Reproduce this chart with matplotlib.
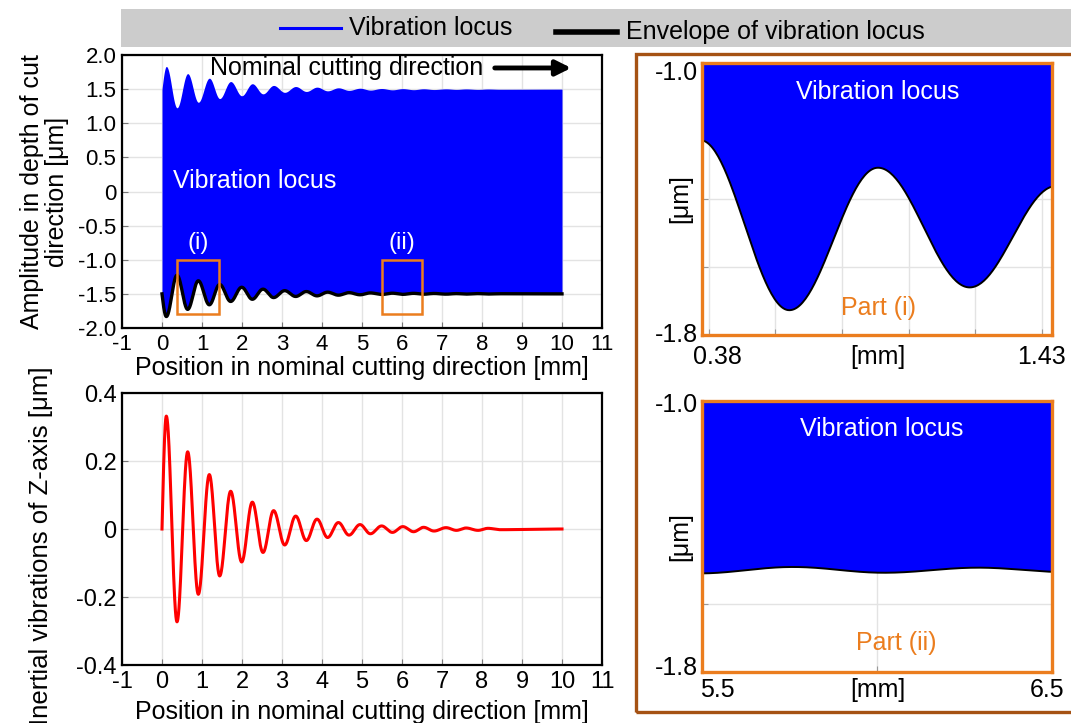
import numpy as np
import matplotlib
matplotlib.use("Agg")
import matplotlib.pyplot as plt
from matplotlib.patches import Rectangle
from matplotlib.lines import Line2D

plt.rcParams['font.family'] = ['Liberation Sans', 'DejaVu Sans']
plt.rcParams['axes.unicode_minus'] = False

# Extrema of the inertial Z-axis vibration [mm] / [um]
peak_pos = [0.0, 0.108, 0.375, 0.642, 0.908, 1.183, 1.442, 1.717, 1.992, 2.258,
            2.525, 2.79, 3.067, 3.342, 3.608, 3.875, 4.14, 4.41, 4.675, 4.95,
            5.21, 5.49, 5.76, 6.02, 6.29, 6.54, 6.8, 7.1, 7.36, 7.6, 7.9,
            8.15, 8.45, 10.0]
peak_val = [0.0, 0.332, -0.273, 0.227, -0.192, 0.160, -0.138, 0.111, -0.097, 0.079,
            -0.069, 0.054, -0.047, 0.038, -0.034, 0.029, -0.025, 0.019, -0.018, 0.013,
            -0.014, 0.009, -0.010, 0.007, -0.008, 0.005, -0.006, 0.004, -0.004, 0.003,
            -0.004, 0.002, -0.002, 0.0]

nominal_amplitude = 1.5          # um, half width of the vibration locus
part_i = (0.38, 1.43)            # mm
part_ii = (5.5, 6.5)             # mm
detail_y = (-1.8, -1.0)          # um

x_ticks = list(range(-1, 12))
amp_ticks = [2.0, 1.5, 1.0, 0.5, 0, -0.5, -1.0, -1.5, -2.0]
amp_labels = ['2.0', '1.5', '1.0', '0.5', '0', '-0.5', '-1.0', '-1.5', '-2.0']
z_ticks = [0.4, 0.2, 0, -0.2, -0.4]
z_labels = ['0.4', '0.2', '0', '-0.2', '-0.4']

BLUE = '#0000FF'
RED = '#FF0000'
ORANGE = '#EB7D1E'
BROWN = '#A55214'
GRID = '#E3E3E3'


def smooth_through(xk, yk, n=60):
    """Half-wave segments joining consecutive extrema."""
    xs, ys = [], []
    for i in range(len(xk) - 1):
        t = np.linspace(0, 1, n, endpoint=False)
        w = np.sin(np.pi / 2 * t) if i == 0 else (1 - np.cos(np.pi * t)) / 2
        xs.append(xk[i] + (xk[i + 1] - xk[i]) * t)
        ys.append(yk[i] + (yk[i + 1] - yk[i]) * w)
    xs.append([xk[-1]])
    ys.append([yk[-1]])
    return np.concatenate(xs), np.concatenate(ys)


pos, z = smooth_through(peak_pos, peak_val)
upper = nominal_amplitude + z
lower = -nominal_amplitude - z

W, H = 1071, 723
fig = plt.figure(figsize=(W / 100, H / 100), dpi=100)


def rect(l, t, r, b):
    return [l / W, 1 - b / H, (r - l) / W, (b - t) / H]


def style_main(ax):
    for s in ax.spines.values():
        s.set_linewidth(1.6)
        s.set_color('black')
        s.set_zorder(6)
    ax.grid(True, color=GRID, linewidth=1.0)
    ax.set_axisbelow(True)
    ax.tick_params(direction='in', length=4, width=0.8, color='#777777',
                   labelsize=16, pad=4)


# ---- legend band ----
fig.add_artist(Rectangle((121 / W, 1 - 47 / H), (W - 121) / W, 38 / H,
                         transform=fig.transFigure, facecolor='#CCCCCC',
                         edgecolor='none'))
fig.add_artist(Line2D([280 / W, 341 / W], [1 - 28 / H] * 2, color=BLUE, lw=2.2,
                      transform=fig.transFigure))
fig.text(349 / W, 1 - 28 / H, 'Vibration locus', fontsize=18, va='center', ha='left')
fig.add_artist(Line2D([556 / W, 617 / W], [1 - 32 / H] * 2, color='black', lw=4,
                      transform=fig.transFigure))
fig.text(626 / W, 1 - 32 / H, 'Envelope of vibration locus', fontsize=18,
         va='center', ha='left')

# ---- top-left: vibration locus ----
ax1 = fig.add_axes(rect(122, 55, 602, 328))
ax1.fill_between(pos, lower, upper, color=BLUE, linewidth=0, zorder=2)
ax1.plot(pos, lower, color='black', lw=2.4, zorder=3)
ax1.set_xlim(-1, 11)
ax1.set_ylim(-2.0, 2.0)
ax1.set_xticks(x_ticks)
ax1.set_yticks(amp_ticks, amp_labels)
style_main(ax1)
ax1.set_xlabel('Position in nominal cutting direction [mm]', fontsize=18, labelpad=1)
ax1.set_ylabel('Amplitude in depth of cut\ndirection [\u03bcm]', fontsize=18,
               linespacing=1.05)
ax1.yaxis.set_label_coords(-0.11, 0.5)
for (x0, x1), tag in ((part_i, '(i)'), (part_ii, '(ii)')):
    ax1.add_patch(Rectangle((x0, detail_y[0]), x1 - x0, detail_y[1] - detail_y[0],
                            fill=False, edgecolor=ORANGE, lw=1.8, zorder=4))
    ax1.text((x0 + x1) / 2, -0.75, tag, color='white', fontsize=17,
             ha='center', va='center', zorder=5)
ax1.text(0.27, 0.16, 'Vibration locus', color='white', fontsize=18,
         ha='left', va='center', zorder=5)
ax1.text(1.2, 1.81, 'Nominal cutting direction', color='black', fontsize=18,
         ha='left', va='center', zorder=5)
ax1.annotate('', xy=(10.3, 1.81), xytext=(8.25, 1.81),
             arrowprops=dict(arrowstyle='-|>,head_length=0.9,head_width=0.45',
                             color='black', lw=3.5), zorder=5)

# ---- bottom-left: inertial vibration ----
ax2 = fig.add_axes(rect(122, 393, 602, 665))
ax2.plot(pos, z, color=RED, lw=2.2, zorder=3)
ax2.set_xlim(-1, 11)
ax2.set_ylim(-0.4, 0.4)
ax2.set_xticks(x_ticks)
ax2.set_yticks(z_ticks, z_labels)
style_main(ax2)
ax2.tick_params(labelsize=17)
ax2.set_xlabel('Position in nominal cutting direction [mm]', fontsize=18, labelpad=5)
ax2.set_ylabel('Inertial vibrations of Z-axis [\u03bcm]', fontsize=18.5)
ax2.yaxis.set_label_coords(-0.143, 0.44)

# ---- right-hand frame ----
fig.add_artist(Rectangle((636 / W, 1 - 712 / H), (W + 10 - 636) / W, (712 - 54) / H,
                         transform=fig.transFigure, fill=False,
                         edgecolor=BROWN, lw=2.4, clip_on=False))


def detail_panel(box, span, part_label, label_pos, ylab_y, xlab_y, locus_xy):
    ax = fig.add_axes(rect(*box))
    ax.fill_between(pos, lower, upper, color=BLUE, linewidth=0, zorder=2)
    ax.plot(pos, lower, color='black', lw=1.4, zorder=3)
    ax.set_xlim(*span)
    ax.set_ylim(*detail_y)
    for s in ax.spines.values():
        s.set_color(ORANGE)
        s.set_linewidth(2.4)
        s.set_zorder(6)
    gx = np.round(np.arange(np.ceil(span[0] * 5) / 5, span[1] + 1e-9, 0.2), 2)
    if span[1] - span[0] <= 1.0:
        gx = [6.0]
    ax.set_xticks(gx, [''] * len(gx))
    gy = [-1.8, -1.6, -1.4, -1.2, -1.0]
    ax.set_yticks(gy, [''] * len(gy))
    ax.grid(True, color=GRID, linewidth=1.0)
    ax.tick_params(direction='in', length=4, width=0.8, color='#999999',
                   top=False, right=False)
    ax.set_axisbelow(True)
    lx0, lx1 = label_pos
    ax.text(lx0, xlab_y, f'{span[0]:g}', transform=ax.transAxes, fontsize=18,
            ha='center', va='center')
    ax.text(lx1, xlab_y, f'{span[1]:g}', transform=ax.transAxes, fontsize=18,
            ha='center', va='center')
    ax.text(0.503, xlab_y, '[mm]', transform=ax.transAxes, fontsize=18,
            ha='center', va='center')
    ax.text(-0.012, ylab_y[0], f'{detail_y[1]:.1f}', transform=ax.transAxes,
            fontsize=18, ha='right', va='center')
    ax.text(-0.012, ylab_y[1], f'{detail_y[0]:.1f}', transform=ax.transAxes,
            fontsize=18, ha='right', va='center')
    ax.text(-0.063, 0.5, '[\u03bcm]', transform=ax.transAxes, fontsize=18,
            rotation=90, ha='center', va='center')
    ax.text(locus_xy[0], locus_xy[1], 'Vibration locus', transform=ax.transAxes,
            fontsize=18, color='white', ha='center', va='center', zorder=5)
    ax.text(part_label[1][0], part_label[1][1], part_label[0], transform=ax.transAxes,
            fontsize=18, color=ORANGE, ha='center', va='center', zorder=5)
    return ax


detail_panel((702, 63, 1052, 335), part_i, ('Part (i)', (0.503, 0.10)),
             (0.043, 0.971), (0.963, 0.0), -0.081, (0.503, 0.895))
detail_panel((702, 401, 1052, 672), part_ii, ('Part (ii)', (0.556, 0.107)),
             (0.043, 0.986), (0.985, 0.015), -0.066, (0.514, 0.897))

fig.savefig('out.png', dpi=100)
